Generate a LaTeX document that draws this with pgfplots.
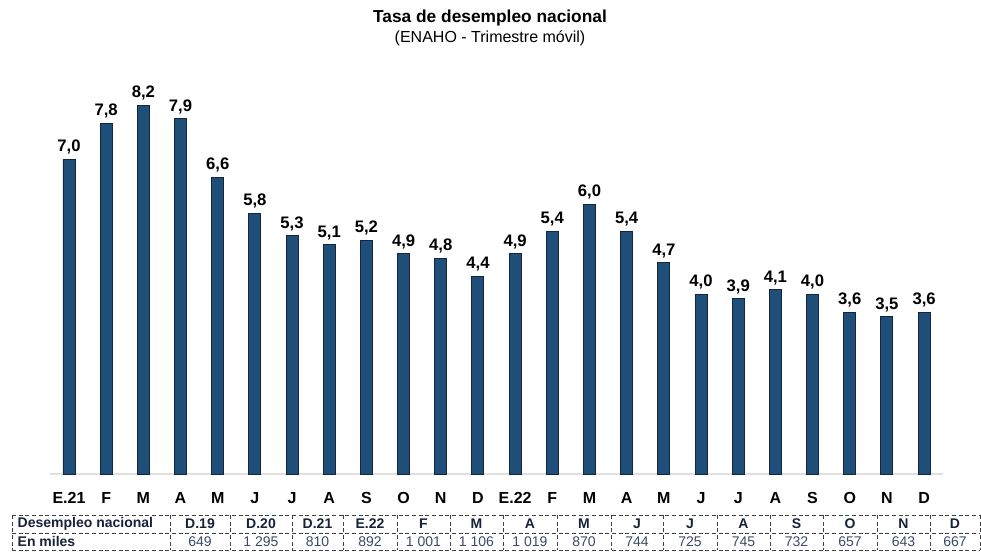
\documentclass[border=0pt]{standalone}
\usepackage{fontspec}
\setmainfont{Liberation Sans}
\usepackage{pgfplots}
\pgfplotsset{compat=1.18}
\definecolor{barblue}{HTML}{1F4E79}
\definecolor{baredge}{HTML}{14263D}
\definecolor{tabhead}{HTML}{17223A}
\definecolor{tabval}{HTML}{3A4A66}

\pgfplotstableread{
x  y
0  7.0
1  7.8
2  8.2
3  7.9
4  6.6
5  5.8
6  5.3
7  5.1
8  5.2
9  4.9
10 4.8
11 4.4
12 4.9
13 5.4
14 6.0
15 5.4
16 4.7
17 4.0
18 3.9
19 4.1
20 4.0
21 3.6
22 3.5
23 3.6
}\tasa

\begin{document}
\begin{tikzpicture}[x=0.75pt,y=0.75pt]
\useasboundingbox (0,0) rectangle (981,-551);
% titulo
\node[font=\fontsize{13}{15}\selectfont\bfseries] at (490,-18) {Tasa de desempleo nacional};
\node[font=\fontsize{12}{14}\selectfont] at (490,-38) {(ENAHO - Trimestre móvil)};

\begin{axis}[
    at={(37.8pt,-355.5pt)}, anchor=south west,
    scale only axis, width=669.2pt, height=303.75pt,
    xmin=-0.5, xmax=23.5, ymin=0, ymax=9,
    axis y line=none, axis x line*=bottom,
    x axis line style={draw=black!12, line width=1.5pt, -},
    xtick={0,...,23},
    xticklabels={E.21,F,M,A,M,J,J,A,S,O,N,D,E.22,F,M,A,M,J,J,A,S,O,N,D},
    tick style={draw=none},
    xticklabel style={font=\fontsize{12}{14}\selectfont\bfseries, yshift=-6pt},
    ybar, bar width=9pt,
    nodes near coords,
    every node near coord/.append style={font=\fontsize{12.5}{14}\selectfont\bfseries, text=black},
    /pgf/number format/.cd, fixed, fixed zerofill, precision=1, use comma, assume math mode=true,
]
\addplot[fill=barblue, draw=baredge, line width=0.7pt] table[x=x, y=y] {\tasa};
\end{axis}

% tabla inferior
\tikzset{tab/.style={draw=black!75, densely dashed, line width=0.5pt}}
\draw[tab] (12,-515) -- (980,-515);
\draw[tab] (12,-533) -- (980,-533);
\draw[tab] (12,-550) -- (980,-550);
\foreach \c in {12,170,230,292,343,397,450,503,557,611,663,717,770,823,877,930,980}
  \draw[tab] (\c,-515) -- (\c,-550);
\node[anchor=west, font=\fontsize{10.5}{12}\selectfont\bfseries, text=tabhead] at (13,-524) {Desempleo nacional};
\node[anchor=west, font=\fontsize{10.5}{12}\selectfont\bfseries, text=tabhead] at (13,-541.5) {En miles};
\foreach \a/\b/\h/\v in {170/230/D.19/649, 230/292/D.20/1 295, 292/343/D.21/810, 343/397/E.22/892,
    397/450/F/1 001, 450/503/M/1 106, 503/557/A/1 019, 557/611/M/870, 611/663/J/744,
    663/717/J/725, 717/770/A/745, 770/823/S/732, 823/877/O/657, 877/930/N/643, 930/980/D/667} {
  \node[font=\fontsize{10.5}{12}\selectfont\bfseries, text=tabhead] at ({(\a+\b)/2},-524) {\h};
  \node[font=\fontsize{10.5}{12}\selectfont, text=tabval] at ({(\a+\b)/2},-541.5) {\v};
}
\end{tikzpicture}
\end{document}
